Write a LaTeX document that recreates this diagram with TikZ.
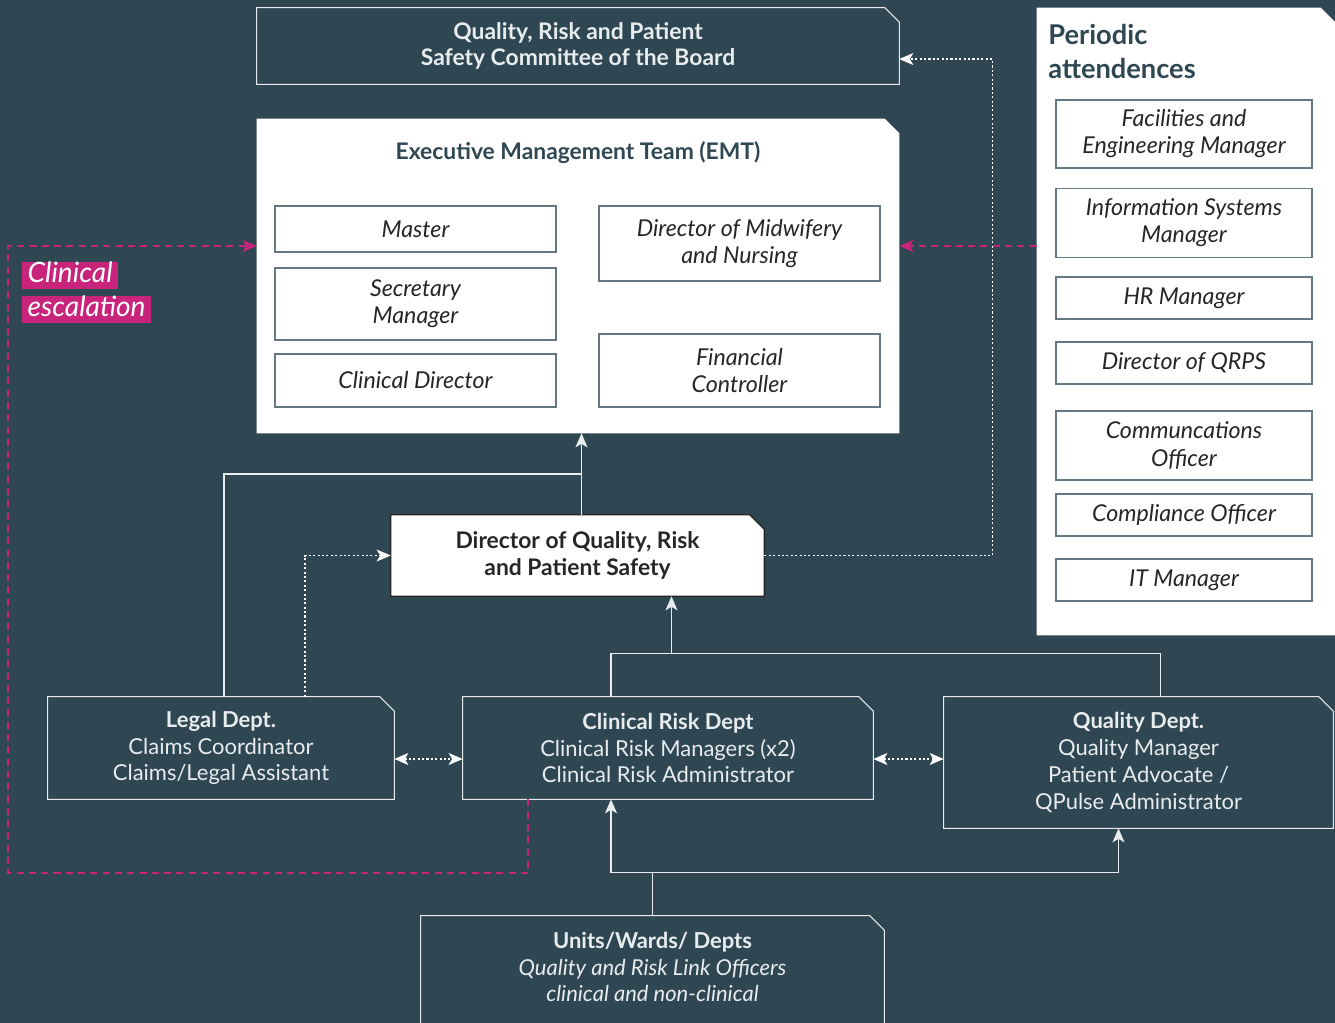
\documentclass[tikz,border=0pt]{standalone}
\usepackage{fontspec}
\setmainfont{Lato}
\usetikzlibrary{arrows.meta,calc,positioning}
\pgfdeclarelayer{background}
\pgfsetlayers{background,main}
\definecolor{slate}{RGB}{47,71,83}
\definecolor{rim}{RGB}{100,120,132}
\definecolor{escmag}{RGB}{200,36,124}
\definecolor{ink}{RGB}{38,38,40}
\definecolor{pale}{RGB}{232,236,238}
\def\px{0.02cm}
\def\cut{0.29cm}
% box with one cut corner, drawn behind its node
\def\chamfer(#1)[#2]{\begin{pgfonlayer}{background}
  \draw[#2] (#1.south west) -- (#1.north west) -- ([xshift=-\cut]#1.north east)
     -- ([yshift=-\cut]#1.north east) -- (#1.south east) -- cycle;
  \end{pgfonlayer}}
\tikzset{
  org schemes/.style = {
    x = 0.02cm, y = -0.02cm,
    font = \fontsize{12.5}{15.2}\selectfont,
    >={Stealth[length=2.8mm,width=2.4mm,inset=0.7mm]},
  },
  boxsize/.style 2 args = {minimum width=#1*\px, minimum height=#2*\px, inner sep=0pt},
  % boxes
  darkbox/.style  = {draw=pale, line width=0.6pt, fill=slate},
  whitebox/.style = {draw=none, fill=white},
  dirbox/.style   = {draw=ink, line width=0.8pt, fill=white},
  role/.style     = {draw=rim, line width=0.6pt, fill=white, text=ink,
                     font=\fontsize{13.2}{15.4}\selectfont\itshape, align=center},
  dept/.style     = {text=pale, align=center},
  heading/.style  = {font=\fontsize{13}{15.2}\selectfont\bfseries},
  tag/.style      = {fill=escmag, text=white, anchor=west, inner xsep=3pt, inner ysep=0.5pt,
                     text height=11pt, text depth=3pt, font=\fontsize{16}{18}\selectfont\itshape},
  % lines, arrows
  link line/.style  = {draw=pale, line width=0.7pt},
  link arrow/.style = {link line, ->},
  dot arrow/.style  = {draw=white, line width=0.7pt, dash pattern=on 1.2pt off 1.3pt, ->},
  dot both/.style   = {dot arrow, <->},
  esc arrow/.style  = {draw=escmag, line width=0.8pt, dash pattern=on 4pt off 3pt, ->},
}
\begin{document}
\begin{tikzpicture}[org schemes]
\useasboundingbox (0,0) rectangle (1335,1023);
\begin{pgfonlayer}{background}
  \fill[slate] (0,0) rectangle (1335,1023);
\end{pgfonlayer}

%---------------------------------------------
\node[boxsize={642}{76}, dept, heading] (committee) at (578,46)
  {Quality, Risk and Patient\\Safety Committee of the Board};
\node[boxsize={642}{314}] (emt) at (578,276) {};
\node[text=slate, heading] (emt-title) at (578,153)
  {Executive Management Team (EMT)};
\node[role, boxsize={281}{46}] (master)    at (415.5,229)   {Master};
\node[role, boxsize={281}{72}] (secretary) at (415.5,304)   {Secretary\\Manager};
\node[role, boxsize={281}{53}] (clindir)   at (415.5,380.5) {Clinical Director};
\node[role, boxsize={281}{75}] (midwife)   at (739.5,243.5) {Director of Midwifery\\and Nursing};
\node[role, boxsize={281}{73}] (fincon)    at (739.5,370.5) {Financial\\Controller};

\node[boxsize={298}{627}] (periodic) at (1186,321.5) {};
\node[text=slate, align=left, anchor=west, inner sep=0pt,
      font=\fontsize{15.5}{19.8}\selectfont\bfseries] (periodic-title) at (1048,51.5)
  {Periodic\\attendences};
\node[role, boxsize={256}{68}] (facilities) at (1184,134)   {Facilities and\\Engineering Manager};
\node[role, boxsize={256}{69}] (infosys)    at (1184,223)   {Information Systems\\Manager};
\node[role, boxsize={256}{42}] (hr)         at (1184,298)   {HR Manager};
\node[role, boxsize={256}{42}] (qrps)       at (1184,363)   {Director of QRPS};
\node[role, boxsize={256}{69}] (comms)      at (1184,445.5) {Communcations\\Officer};
\node[role, boxsize={256}{42}] (compliance) at (1184,515)   {Compliance Officer};
\node[role, boxsize={256}{42}] (itman)      at (1184,580)   {IT Manager};

\node[boxsize={373}{81}, text=ink, align=center, heading]
  (dir) at (577.5,555.5) {Director of Quality, Risk\\and Patient Safety};

\node[boxsize={346}{102}, dept] (legal) at (221,748)
  {\textbf{Legal Dept.}\\Claims Coordinator\\Claims/Legal Assistant};
\node[boxsize={410}{102}, dept] (crisk) at (668,748)
  {\textbf{Clinical Risk Dept}\\Clinical Risk Managers (x2)\\Clinical Risk Administrator};
\node[boxsize={389}{131}, dept] (quality) at (1138.5,762.5)
  {\textbf{Quality Dept.}\\Quality Manager\\Patient Advocate /\\QPulse Administrator};
\node[boxsize={463}{124}] (units) at (652.5,978) {};
\node[dept] (units-text) at (652.5,967)
  {\textbf{Units/Wards/ Depts}\\\textit{Quality and Risk Link Officers}\\\textit{clinical and non-clinical}};

\node[tag] (esc-a) at (22,275.5) {Clinical};
\node[tag] (esc-b) at (22,309.5) {escalation};

\chamfer(committee)[darkbox]
\chamfer(emt)[whitebox]
\chamfer(periodic)[whitebox]
\chamfer(dir)[dirbox]
\chamfer(legal)[darkbox]
\chamfer(crisk)[darkbox]
\chamfer(quality)[darkbox]
\chamfer(units)[darkbox]

% escalation
\coordinate (esc corner) at (8,873);
\draw[esc arrow] ([xshift=-140*\px]crisk.south) |- (esc corner) |- ([yshift=30*\px]emt.west);
\path ([yshift=30*\px]emt.east) coordinate (emtR);
\draw[esc arrow] (periodic.west |- emtR) -- (emtR);

% reporting lines
\path ([xshift=4*\px]dir.north) coordinate (dirtop);
\coordinate (join) at ($(dirtop)!0.5!(dirtop |- emt.south)$);
\draw[link arrow] (dirtop) -- (dirtop |- emt.south);
\draw[link line] ([xshift=3*\px]legal.north) |- (join);
\draw[dot arrow] ([xshift=84*\px]legal.north) |- (dir.west);
\path ($(committee.south east)!0.33!(committee.north east)$) coordinate (qin);
\draw[dot arrow] (dir.east) -| ([xshift=93*\px]qin) -- (qin);

\path ([xshift=94*\px]dir.south) coordinate (dirbot);
\coordinate (hub) at ($(dirbot)+(0,57)$);
\draw[link arrow] (hub) -- (dirbot);
\draw[link line] ([xshift=-57*\px]crisk.north) |- (hub) -| ([xshift=22*\px]quality.north);

\coordinate (feed) at ($(units.north)+(0,-43)$);
\draw[link line] (units.north) -- (feed);
\draw[link arrow] (feed) -| ([xshift=-57*\px]crisk.south);
\draw[link arrow] (feed) -| ([xshift=-20*\px]quality.south);

\draw[dot both] ([yshift=-11*\px]legal.east) -- ([yshift=-11*\px]legal.east -| crisk.west);
\draw[dot both] ([yshift=-11*\px]crisk.east) -- ([yshift=-11*\px]crisk.east -| quality.west);
\end{tikzpicture}
\end{document}
